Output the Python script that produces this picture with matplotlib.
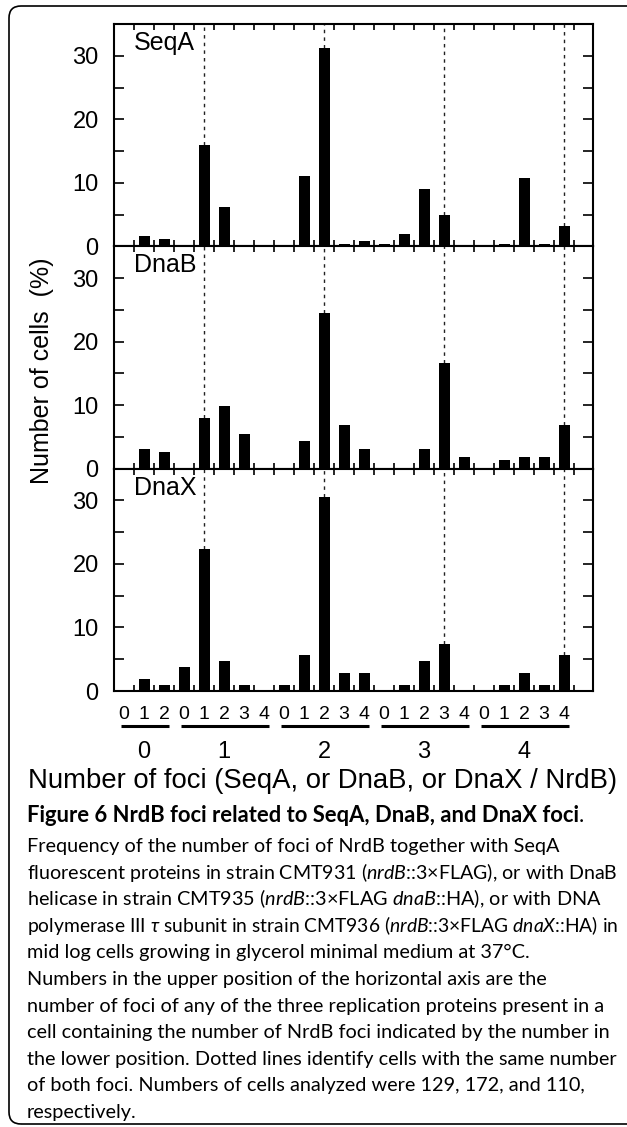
import matplotlib
matplotlib.use("Agg")
import matplotlib.pyplot as plt
from matplotlib.patches import FancyBboxPatch
from matplotlib.transforms import Affine2D, blended_transform_factory
import numpy as np

# x axis: NrdB foci groups (lower numbers) and replication protein foci (upper numbers)
nrdb_foci = [0, 1, 2, 3, 4]
n_positions = [3, 5, 5, 5, 5]
sub_labels = ["0", "1", "2",
              "0", "1", "2", "3", "4",
              "0", "1", "2", "3", "4",
              "0", "1", "2", "3", "4",
              "0", "1", "2", "3", "4"]

# percent of cells
seqa = [0, 1.7, 1.2, 0, 16.0, 6.2, 0, 0, 0, 11.1, 31.3, 0.4, 0.8, 0.4, 2.0, 9.0,
        4.9, 0, 0, 0.4, 10.7, 0.4, 3.2]
dnab = [0, 3.1, 2.6, 0, 8.0, 9.8, 5.5, 0, 0, 4.4, 24.5, 6.8, 3.1, 0, 0, 3.1,
        16.6, 1.9, 0, 1.3, 1.9, 1.9, 6.8]
dnax = [0, 1.9, 0.9, 3.7, 22.3, 4.7, 0.9, 0, 0.9, 5.6, 30.6, 2.8, 2.8, 0, 0.9, 4.7,
        7.4, 0, 0, 0.9, 2.8, 0.9, 5.6]
panel_names = ["SeqA", "DnaB", "DnaX"]

caption_title = "Figure 6 NrdB foci related to SeqA, DnaB, and DnaX foci"
caption_lines = [
    r"Frequency of the number of foci of NrdB together with SeqA",
    r"fluorescent proteins in strain CMT931 ($\mathit{nrdB}$::3×FLAG), or with DnaB",
    r"helicase in strain CMT935 ($\mathit{nrdB}$::3×FLAG $\mathit{dnaB}$::HA), or with DNA",
    r"polymerase III $\tau$ subunit in strain CMT936 ($\mathit{nrdB}$::3×FLAG $\mathit{dnaX}$::HA) in",
    r"mid log cells growing in glycerol minimal medium at 37°C.",
    r"Numbers in the upper position of the horizontal axis are the",
    r"number of foci of any of the three replication proteins present in a",
    r"cell containing the number of NrdB foci indicated by the number in",
    r"the lower position. Dotted lines identify cells with the same number",
    r"of both foci. Numbers of cells analyzed were 129, 172, and 110,",
    r"respectively.",
]

plt.rcParams["font.family"] = ["Liberation Sans", "DejaVu Sans"]
plt.rcParams["mathtext.fontset"] = "custom"
plt.rcParams["mathtext.rm"] = "Lato"
plt.rcParams["mathtext.it"] = "Lato:italic"
plt.rcParams["mathtext.bf"] = "Lato:bold"
CAP_FONT = ["Lato", "DejaVu Sans"]
CAP_SIZE = 14.3

W, H = 627, 1127
fig = plt.figure(figsize=(W / 100, H / 100), dpi=100)
# pixel coordinates, origin bottom-left
to_px = Affine2D().scale(1 / W, 1 / H) + fig.transFigure

x = np.arange(len(sub_labels))
starts = np.cumsum([0] + n_positions[:-1])
# same number of both foci -> dotted line (group 0 has no such bar)
diag = [starts[g] + g for g in nrdb_foci if g > 0]

ax_left, ax_right, ax_top, ax_bottom = 114, 593, 24, 691
ph = (ax_bottom - ax_top) / 3
axes = []
for k, (name, vals) in enumerate(zip(panel_names, [seqa, dnab, dnax])):
    vals = np.array(vals)
    ax = fig.add_axes([ax_left / W, 1 - (ax_top + (k + 1) * ph) / H,
                       (ax_right - ax_left) / W, ph / H])
    ax.bar(x, vals, width=0.55, color="black", linewidth=0, zorder=3)
    ax.vlines(x[diag], vals[diag], 35, colors="#222222", linewidth=1.0,
              linestyles=(0, (2.5, 3)), zorder=2)
    ax.set_xlim(-0.5, 23.45)
    ax.set_ylim(0, 35)
    ax.set_yticks([0, 10, 20, 30])
    ax.set_yticks([5, 15, 25], minor=True)
    ax.set_xticks(np.arange(0.5, 23, 1))
    ax.tick_params(axis="y", which="both", direction="in", length=7, width=1.2,
                   left=True, right=True, labelsize=17, pad=11)
    ax.tick_params(axis="x", which="major", direction="in", length=4, width=1.2,
                   top=True, bottom=True, labelbottom=False)
    for s in ax.spines.values():
        s.set_linewidth(1.5)
    ax.text(0.042, 0.915, name, transform=ax.transAxes, fontsize=18,
            ha="left", va="center")
    axes.append(ax)

ax = axes[-1]
ax.set_xticks(x, sub_labels, minor=True)
ax.tick_params(axis="x", which="minor", length=0, labelsize=14, pad=11)
blend = blended_transform_factory(ax.transData, ax.transAxes)
for g, s, n in zip(nrdb_foci, starts, n_positions):
    ax.plot([s - 0.15, s + n - 1 + 0.25], [-0.157, -0.157], color="black",
            linewidth=2.2, transform=blend, clip_on=False, solid_capstyle="butt")
    ax.text(s + (n - 1) / 2, -0.274, str(g), transform=blend, fontsize=17,
            ha="center", va="center")

fig.text(323, H - 781, "Number of foci (SeqA, or DnaB, or DnaX / NrdB)",
         transform=to_px, fontsize=19.8, ha="center", va="center")
fig.text(42, H - 371, "Number of cells  (%)", transform=to_px, fontsize=18,
         rotation=90, ha="center", va="center")

# caption
renderer = fig.canvas.get_renderer()
t = fig.text(27, H - 822, caption_title, transform=to_px, fontsize=15.8,
             weight="bold", family=CAP_FONT, va="baseline")
bb = t.get_window_extent(renderer)
fig.text(bb.x1 * 100 / fig.dpi, H - 822, ".", transform=to_px, fontsize=15.8,
         family=CAP_FONT, va="baseline")
for i, line in enumerate(caption_lines):
    t = fig.text(27, H - (852 + 26.6 * i), line, transform=to_px,
                 fontsize=CAP_SIZE, family=CAP_FONT, va="baseline")
    # squeeze lines that run past the right margin
    w = t.get_window_extent(renderer).width * 100 / fig.dpi
    if 27 + w > 619:
        t.set_fontsize(CAP_SIZE * (619 - 27) / w)

frame = FancyBboxPatch((9, H - 1124), 1500, 1118, boxstyle="round,pad=0,rounding_size=12",
                       transform=to_px, facecolor="none", edgecolor="black",
                       linewidth=1.2)
fig.add_artist(frame)

fig.savefig("out.png", dpi=100)
